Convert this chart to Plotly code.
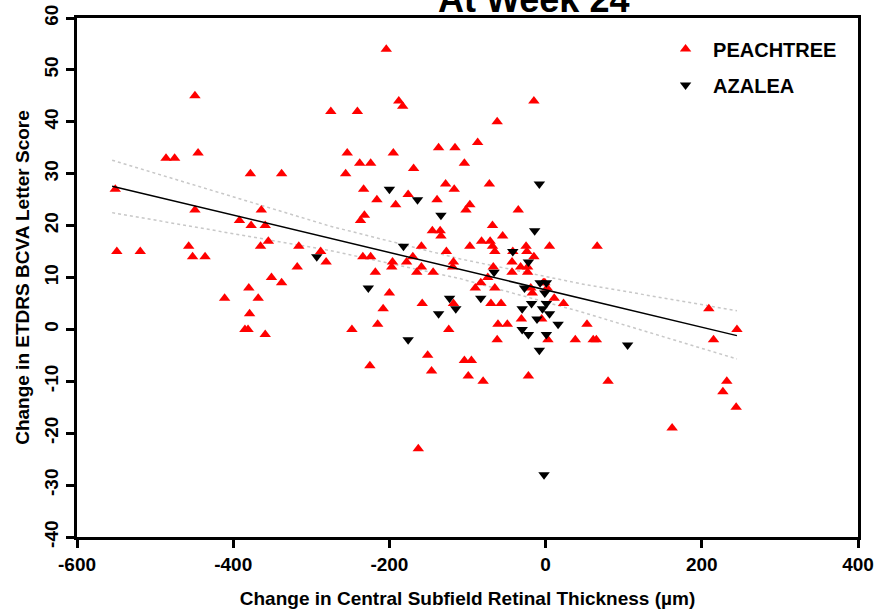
import plotly.graph_objects as go

# PEACHTREE (red, triangle-up)
pt_x = [-551, -549, -519, -486, -475, -449, -445, -449, -457, -452, -436, -411, -392, -385, -381, -379,
        -380, -378, -377, -368, -365, -364, -359, -359, -355, -351, -338, -338, -318, -316, -288, -281, -275,
        -256, -254, -248, -241, -238, -237, -234, -233, -232, -225, -224, -224, -218, -216, -215, -208, -204,
        -200, -197, -196, -195, -192, -188, -183, -178, -176, -170, -169, -165, -163, -159, -159, -158, -151,
        -146, -145, -144, -139, -137, -135, -134, -128, -127, -124, -119, -118, -118, -117, -116, -104, -104,
        -102, -99, -97, -97, -95, -90, -87, -83, -82, -80, -74, -72, -71, -70, -68, -68, -67, -65, -65, -62,
        -62, -61, -57, -55, -49, -43, -43, -42, -35, -32, -31, -25, -24, -23, -23, -22, -19, -17, -15, -15,
        -5, -3, -1, 2, 3, 5, 11, 23, 38, 53, 61, 65, 66, 80, 162, 209, 215, 227, 232, 244, 245]
pt_y = [27, 15, 15, 33, 33, 45, 34, 23, 16, 14, 14, 6, 21, 0, 0, 3,
        8, 30, 20, 6, 16, 23, 20, -1, 17, 10, 30, 9, 12, 16, 15, 13, 42,
        30, 34, 0, 42, 32, 21, 14, 27, 22, -7, 32, 14, 11, 25, 1, 4, 54,
        7, 12, 13, 34, 24, 44, 43, 13, 26, 14, 31, 11, -23, 16, 12, 5, -5,
        -8, 19, 11, 25, 35, 19, 18, 28, 15, 0, 12, 13, 5, 27, 35, 32, -6,
        23, -9, 24, 16, -6, 8, 36, 9, 17, -10, 10, 28, 17, 5, 20, 16, 12, 15, 8, 40,
        -2, 1, 5, 18, 1, 13, 11, 15, 23, 12, 2, 16, 15, 12, 11, -9, 8, 7, 44, 14,
        2, 9, 9, 8, -2, 16, 6, 5, -2, 1, -2, -2, 16, -10, -19, 4, -2, -12, -10, -15, 0]

# AZALEA (black, triangle-down)
az_x = [-293, -227, -200, -182, -176, -164, -137, -134, -123, -115, -83, -66, -42, -30, -30, -27, -22,
        -22, -18, -14, -11, -8, -8, -7, -4, -1, 1, 1, 1, 5, 16, 105, -2]
az_y = [14, 8, 27, 16, -2, 25, 3, 22, 6, 4, 6, 11, 15, 4, 0, 8, 13,
        -1, 5, 19, 2, 28, -4, 9, 4, 7, 9, 5, -1, 3, 1, -3, -28]

# Regression line and 95% confidence band
fit_x = [-555, 245]
fit_y = [27.6, -1.2]
band_x = [-555, -276, -110, 45, 245]
band_up = [32.6, 19.9, 13.6, 8.8, 3.6]
band_lo = [22.5, 15.2, 9.8, 3.4, -5.7]

x_ticks = [-600, -400, -200, 0, 200, 400]
y_ticks = [-40, -30, -20, -10, 0, 10, 20, 30, 40, 50, 60]

FONT = "Liberation Sans"

fig = go.Figure()
fig.add_trace(go.Scatter(x=band_x, y=band_up, mode="lines", showlegend=False,
                         line=dict(color="#c8c8c8", width=1.5, dash="dot"), hoverinfo="skip"))
fig.add_trace(go.Scatter(x=band_x, y=band_lo, mode="lines", showlegend=False,
                         line=dict(color="#c8c8c8", width=1.5, dash="dot"), hoverinfo="skip"))
fig.add_trace(go.Scatter(x=pt_x, y=pt_y, mode="markers", name="PEACHTREE", legendgroup="a",
                         marker=dict(symbol="triangle-up", color="#ff0000", size=10, line=dict(width=0))))
fig.add_trace(go.Scatter(x=az_x, y=az_y, mode="markers", name="AZALEA", legendgroup="b",
                         marker=dict(symbol="triangle-down", color="#000000", size=10, line=dict(width=0))))
fig.add_trace(go.Scatter(x=fit_x, y=fit_y, mode="lines", showlegend=False,
                         line=dict(color="#000000", width=1.5)))

axis_common = dict(showline=True, linecolor="black", linewidth=3, mirror=True,
                   ticks="outside", ticklen=8, tickwidth=3, tickcolor="black",
                   showgrid=False, zeroline=False, automargin=False,
                   tickfont=dict(family=FONT, size=19, color="black", weight="bold"))

fig.update_xaxes(range=[-600, 400], tickvals=x_ticks, ticktext=[str(v) for v in x_ticks],
                 title=dict(text="Change in Central Subfield Retinal Thickness (µm)",
                            font=dict(family=FONT, size=19, color="black", weight="bold"), standoff=18),
                 **axis_common)
fig.update_yaxes(range=[-40, 60], tickvals=y_ticks, ticktext=[str(v) for v in y_ticks], tickangle=-90,
                 title=dict(text="Change in ETDRS BCVA Letter Score",
                            font=dict(family=FONT, size=19, color="black", weight="bold"), standoff=7),
                 **axis_common)

fig.add_annotation(text="At Week 24", xref="paper", yref="paper", x=0.584, y=1.0,
                   xanchor="center", yanchor="middle", yshift=19, showarrow=False,
                   font=dict(family=FONT, size=36, color="black", weight="bold"))

fig.update_layout(
    width=876, height=609,
    margin=dict(l=77, r=18, t=18, b=72),
    plot_bgcolor="white", paper_bgcolor="white",
    legend=dict(x=0.744, y=0.978, xanchor="left", yanchor="top", bgcolor="rgba(0,0,0,0)",
                traceorder="grouped", tracegroupgap=7, itemwidth=45,
                font=dict(family=FONT, size=20, color="black", weight="bold")),
    showlegend=True,
)

fig.write_html("out.html")
